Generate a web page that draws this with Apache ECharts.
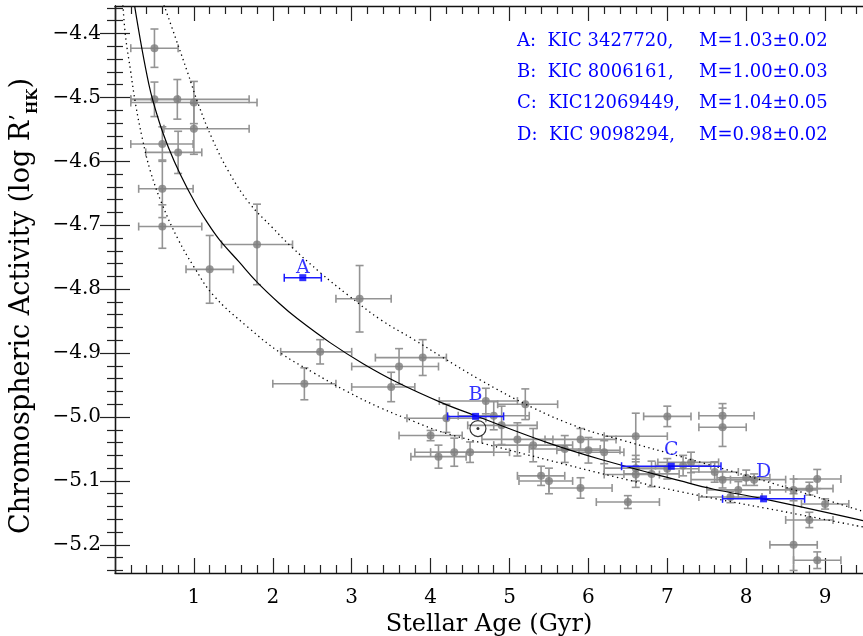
<!DOCTYPE html>
<html><head><meta charset="utf-8">
<script src="https://cdn.jsdelivr.net/npm/echarts@6/dist/echarts.min.js"></script>
<style>html,body{margin:0;padding:0;background:#fff}#c{width:863px;height:636px}</style>
</head><body><div id="c"></div>
<script>
// ---- gray sample stars ----
const ages =        [0.50,0.50,0.79,1.00,1.00,0.60,0.60,0.60,0.80,1.20,1.80,3.10,2.60,2.40,3.90,3.60,3.50,4.70,5.20,4.20,4.80,4.90,4.00,5.10,5.30,4.10,4.30,4.50,5.40,5.50,5.70,5.90,6.00,6.20,5.90,6.50,6.60,7.00,7.70,7.70,6.60,6.60,6.80,7.00,7.20,7.30,7.60,7.70,8.00,8.10,7.90,7.80,8.60,8.80,8.90,9.00,8.80,8.60,8.90];
const logR =        [-4.423,-4.503,-4.503,-4.508,-4.549,-4.573,-4.643,-4.702,-4.586,-4.769,-4.730,-4.815,-4.898,-4.948,-4.907,-4.921,-4.953,-4.975,-4.980,-5.002,-4.998,-5.013,-5.029,-5.035,-5.044,-5.062,-5.055,-5.055,-5.092,-5.100,-5.050,-5.035,-5.052,-5.055,-5.111,-5.133,-5.030,-4.999,-4.998,-5.016,-5.080,-5.090,-5.089,-5.081,-5.076,-5.071,-5.086,-5.098,-5.095,-5.098,-5.114,-5.125,-5.114,-5.112,-5.097,-5.136,-5.161,-5.200,-5.224];
const ageErrMinus = [0.30,0.30,0.59,0.80,0.38,0.40,0.30,0.30,0.41,0.30,0.45,0.30,0.50,0.40,0.60,0.60,0.50,0.59,0.35,0.50,0.45,0.43,0.40,0.45,0.50,0.35,0.50,0.50,0.30,0.38,0.45,0.45,0.40,0.32,0.40,0.40,0.40,0.30,0.30,0.30,0.40,0.40,0.35,0.40,0.35,0.42,0.30,0.40,0.37,0.30,0.40,0.40,0.30,0.30,0.30,0.30,0.30,0.30,0.30];
const ageErrPlus =  [0.30,0.30,0.91,0.80,0.70,0.39,0.39,0.50,0.30,0.30,0.45,0.40,0.40,0.40,0.30,0.50,0.30,0.40,0.41,0.50,0.45,0.45,0.40,0.45,0.50,0.35,0.50,0.50,0.30,0.30,0.45,0.45,0.40,0.25,0.40,0.40,0.40,0.30,0.40,0.30,0.40,0.30,0.35,0.40,0.35,0.35,0.30,0.40,0.30,0.40,0.40,0.40,0.30,0.30,0.30,0.30,0.30,0.30,0.30];
const logErrMinus = [0.030,0.027,0.031,0.033,0.040,0.027,0.045,0.034,0.033,0.053,0.063,0.052,0.019,0.025,0.028,0.028,0.023,0.020,0.024,0.022,0.022,0.030,0.008,0.026,0.026,0.018,0.022,0.016,0.015,0.020,0.021,0.017,0.020,0.018,0.016,0.010,0.036,0.016,0.019,0.030,0.020,0.020,0.020,0.016,0.016,0.016,0.016,0.013,0.012,0.009,0.013,0.009,0.017,0.010,0.015,0.008,0.012,0.040,0.013];
const logErrPlus =  [0.030,0.027,0.031,0.033,0.040,0.027,0.045,0.034,0.033,0.053,0.063,0.052,0.019,0.025,0.028,0.028,0.023,0.020,0.024,0.022,0.022,0.030,0.008,0.026,0.026,0.018,0.022,0.016,0.015,0.020,0.021,0.017,0.020,0.018,0.016,0.010,0.036,0.016,0.019,0.030,0.020,0.020,0.020,0.016,0.016,0.016,0.016,0.013,0.012,0.009,0.013,0.009,0.017,0.010,0.015,0.008,0.012,0.080,0.013];

// ---- Kepler targets (blue) ----
const kicTags = ['A','B','C','D'];
const kicAge = [2.38, 4.57, 7.05, 8.22];
const kicLogR = [-4.782, -4.999, -5.077, -5.128];
const kicAgeErr = [0.235, 0.355, 0.63, 0.52];
const kicIds = ['KIC 3427720,', 'KIC 8006161,', 'KIC12069449,', 'KIC 9098294,'];
const kicMass = ['M=1.03\u00b10.02', 'M=1.00\u00b10.03', 'M=1.04\u00b10.05', 'M=0.98\u00b10.02'];

// ---- Sun ----
const sunAge = 4.60, sunLogR = -5.018;

// ---- relation curves ----
const fitAge =  [0.25,0.43,0.56,0.68,0.83,1.02,1.15,1.32,1.57,1.80,2.08,2.31,2.73,3.15,3.58,4.13,4.57,5.48,6.15,7.17,7.59,8.22,9.48];
const fitLogR = [-4.358,-4.480,-4.538,-4.579,-4.621,-4.666,-4.692,-4.722,-4.757,-4.789,-4.822,-4.846,-4.884,-4.917,-4.946,-4.977,-4.998,-5.040,-5.066,-5.100,-5.113,-5.128,-5.162];
const lowAge =  [0.10,0.134,0.198,0.26,0.346,0.45,0.60,0.80,1.00,1.25,1.68,2.10,2.52,2.94,3.37,3.79,4.13,4.63,5.48,6.32,7.17,8.69,9.48];
const lowLogR = [-4.355,-4.405,-4.459,-4.510,-4.564,-4.616,-4.668,-4.722,-4.765,-4.810,-4.859,-4.900,-4.931,-4.960,-4.986,-5.007,-5.023,-5.040,-5.067,-5.093,-5.117,-5.153,-5.172];
const upAge =   [0.62,0.77,0.92,1.06,1.23,1.44,1.70,1.99,2.23,2.61,2.94,3.37,3.79,4.13,4.63,5.27,5.90,6.45,7.17,8.18,9.49];
const upLogR =  [-4.355,-4.408,-4.461,-4.512,-4.564,-4.616,-4.665,-4.703,-4.733,-4.775,-4.808,-4.848,-4.879,-4.905,-4.942,-4.984,-5.017,-5.037,-5.062,-5.098,-5.148];

// ---- axis ticks ----
const xMajor = [0,1,2,3,4,5,6,7,8,9];
const xLabels = [1,2,3,4,5,6,7,8,9];
const yLabels = [-5.2,-5.1,-5.0,-4.9,-4.8,-4.7,-4.6,-4.5,-4.4];

// ---------------------------------------------------------
const X_MIN = 0, X_MAX = 9.48, Y_MIN = -5.244, Y_MAX = -4.357;
const xMinor = [];
for (let k = 1; k <= 47; k++) { if (k % 5) xMinor.push(+(k * 0.2).toFixed(1)); }
const yMinor = [];
for (let k = -262; k <= -218; k++) { if (k % 5) yMinor.push(+(k * 0.02).toFixed(2)); }

const SERIF = '"DejaVu Serif", "Liberation Serif", serif';
const FRAME = {color: '#111', width: 1.3};
const TICK = {color: '#222', width: 1.2};
const fmt = v => (v < 0 ? '\u2212' : '') + Math.abs(v).toFixed(1);

function xAx(pos, major, withLabel) {
  return {
    type: 'value', position: pos, min: X_MIN, max: X_MAX, gridIndex: 0,
    axisLine: {show: major, lineStyle: FRAME},
    axisTick: {show: true, inside: true, length: major ? 15 : 8, customValues: major ? xMajor : xMinor, lineStyle: TICK},
    axisLabel: withLabel ? {show: true, customValues: xLabels, margin: 15, fontSize: 20, fontFamily: SERIF, color: '#000'} : {show: false},
    splitLine: {show: false},
    name: withLabel ? 'Stellar Age (Gyr)' : '',
    nameLocation: 'middle', nameGap: 37,
    nameTextStyle: {fontSize: 24, fontFamily: SERIF, color: '#000'}
  };
}
function yAx(pos, major, withLabel) {
  return {
    type: 'value', position: pos, min: Y_MIN, max: Y_MAX, gridIndex: 0,
    axisLine: {show: major, lineStyle: FRAME},
    axisTick: {show: true, inside: true, length: major ? 15 : 8, customValues: major ? yLabels : yMinor, lineStyle: TICK},
    axisLabel: withLabel ? {show: true, customValues: yLabels, formatter: fmt, margin: 14, fontSize: 20, fontFamily: SERIF, color: '#000'} : {show: false},
    splitLine: {show: false}
  };
}

const grayData = ages.map((a, i) => [a, logR[i], a - ageErrMinus[i], a + ageErrPlus[i], logR[i] - logErrMinus[i], logR[i] + logErrPlus[i]]);
const blueData = kicAge.map((a, i) => [a, kicLogR[i], a - kicAgeErr[i], a + kicAgeErr[i]]);

function errRender(color, lw, cap) {
  return function (params, api) {
    const x = api.value(0), y = api.value(1);
    const l = api.coord([api.value(2), y]), r = api.coord([api.value(3), y]);
    const children = [
      {type: 'line', shape: {x1: l[0], y1: l[1], x2: r[0], y2: r[1]}, style: {stroke: color, lineWidth: lw}},
      {type: 'line', shape: {x1: l[0], y1: l[1] - cap, x2: l[0], y2: l[1] + cap}, style: {stroke: color, lineWidth: lw}},
      {type: 'line', shape: {x1: r[0], y1: r[1] - cap, x2: r[0], y2: r[1] + cap}, style: {stroke: color, lineWidth: lw}}
    ];
    if (params.seriesName === 'grayErr') {
      const b = api.coord([x, api.value(4)]), t = api.coord([x, api.value(5)]);
      children.push(
        {type: 'line', shape: {x1: b[0], y1: b[1], x2: t[0], y2: t[1]}, style: {stroke: color, lineWidth: lw}},
        {type: 'line', shape: {x1: b[0] - cap, y1: b[1], x2: b[0] + cap, y2: b[1]}, style: {stroke: color, lineWidth: lw}},
        {type: 'line', shape: {x1: t[0] - cap, y1: t[1], x2: t[0] + cap, y2: t[1]}, style: {stroke: color, lineWidth: lw}}
      );
    }
    return {type: 'group', children};
  };
}

const labelLift = {A: -3, B: 8, C: 3, D: 14};

const chart = echarts.init(document.getElementById('c'), null, {renderer: 'canvas'});
const graphics = [];
kicTags.forEach((t, i) => {
  const yc = 43 + i * 31.4;
  graphics.push({type: 'text', left: 517, top: yc - 11, style: {text: t + ':  ' + kicIds[i], fontSize: 18, fontFamily: SERIF, fill: '#0000ff'}});
  graphics.push({type: 'text', left: 699, top: yc - 11, style: {text: kicMass[i], fontSize: 18, fontFamily: SERIF, fill: '#0000ff'}});
});
graphics.push({
  type: 'text', x: 24, y: 306, rotation: Math.PI / 2,
  style: {
    text: '{a|Chromospheric Activity (log R}{p|\u2019}{s|HK}{a|)}',
    align: 'center', verticalAlign: 'middle',
    rich: {
      a: {fontSize: 27, fontFamily: SERIF, fill: '#000', lineHeight: 32, verticalAlign: 'top'},
      p: {fontSize: 22, fontFamily: SERIF, fill: '#000', lineHeight: 32, verticalAlign: 'top'},
      s: {fontSize: 14, fontFamily: SERIF, fill: '#000', fontWeight: 'bold', lineHeight: 32, verticalAlign: 'bottom'}
    }
  }
});

chart.setOption({
  animation: false,
  backgroundColor: '#fff',
  grid: {left: 115, right: 0, top: 6, bottom: 63, containLabel: false, outerBoundsMode: 'none'},
  xAxis: [xAx('bottom', true, true), xAx('bottom', false, false), xAx('top', true, false), xAx('top', false, false)],
  yAxis: [yAx('left', true, true), yAx('left', false, false), yAx('right', true, false), yAx('right', false, false)],
  graphic: graphics,
  series: [
    {name: 'grayErr', type: 'custom', clip: true, renderItem: errRender('#949494', 1.6, 4), data: grayData, z: 2},
    {name: 'gray', type: 'scatter', symbol: 'circle', symbolSize: 8, itemStyle: {color: '#7d7d7d'}, data: ages.map((a, i) => [a, logR[i]]), z: 3},
    {name: 'fit', type: 'line', smooth: 0.4, showSymbol: false, clip: true, lineStyle: {color: '#000', width: 1.2}, data: fitAge.map((a, i) => [a, fitLogR[i]]), z: 4},
    {name: 'low', type: 'line', smooth: 0.4, showSymbol: false, clip: true, lineStyle: {color: '#000', width: 1.3, type: [1.3, 3.5]}, data: lowAge.map((a, i) => [a, lowLogR[i]]), z: 4},
    {name: 'up', type: 'line', smooth: 0.4, showSymbol: false, clip: true, lineStyle: {color: '#000', width: 1.3, type: [1.3, 3.5]}, data: upAge.map((a, i) => [a, upLogR[i]]), z: 4},
    {name: 'blueErr', type: 'custom', clip: true, renderItem: errRender('#1a1aff', 1.5, 4), data: blueData, z: 5},
    {name: 'blue', type: 'scatter', symbol: 'rect', symbolSize: 7, itemStyle: {color: '#0000ff'},
      data: kicAge.map((a, i) => ({value: [a, kicLogR[i]], label: {show: true, formatter: kicTags[i], position: 'top', distance: labelLift[kicTags[i]], fontSize: 19, fontFamily: SERIF, color: '#0000ff'}})), z: 6},
    {name: 'sun', type: 'scatter', symbol: 'circle', symbolSize: 16, itemStyle: {color: 'rgba(0,0,0,0)', borderColor: '#000', borderWidth: 1.2}, data: [[sunAge, sunLogR]], z: 6},
    {name: 'sunDot', type: 'scatter', symbol: 'circle', symbolSize: 3, itemStyle: {color: '#000'}, data: [[sunAge, sunLogR]], z: 7}
  ]
});
</script></body></html>
